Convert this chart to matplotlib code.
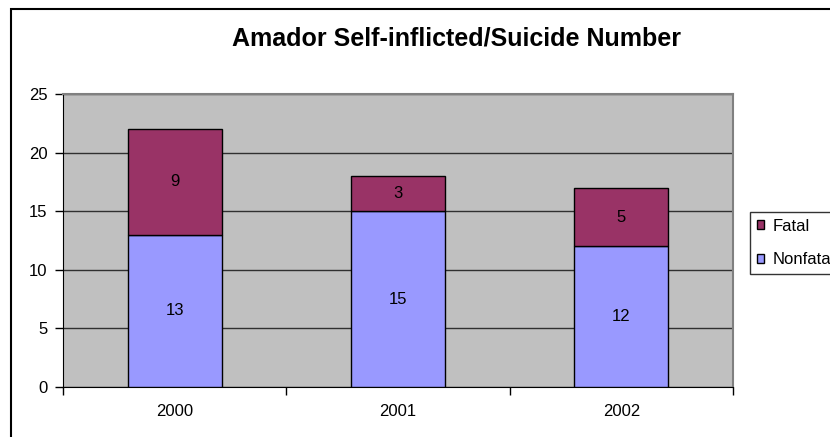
import numpy as np
import matplotlib.pyplot as plt
from matplotlib.patches import Rectangle, Patch

plt.rcParams['font.family'] = ['Liberation Sans', 'DejaVu Sans']

# Datos del grafico
years = ['2000', '2001', '2002']
nonfatal = [13, 15, 12]
fatal = [9, 3, 5]

col_nonfatal = '#9999FF'
col_fatal = '#993366'

fig = plt.figure(figsize=(8.3, 4.37), dpi=100)
ax = fig.add_axes([63/830, 1 - 387/437, 670/830, 293/437])
ax.set_facecolor('#C0C0C0')

x = np.arange(len(years))
w = 0.42
ax.bar(x, nonfatal, w, color=col_nonfatal, edgecolor='black', linewidth=1, zorder=3)
ax.bar(x, fatal, w, bottom=nonfatal, color=col_fatal, edgecolor='black', linewidth=1, zorder=3)

# Etiquetas de valores dentro de las barras
for i in range(len(years)):
    ax.text(x[i], nonfatal[i] / 2, str(nonfatal[i]), ha='center', va='center', fontsize=12, zorder=4)
    ax.text(x[i], nonfatal[i] + fatal[i] / 2, str(fatal[i]), ha='center', va='center', fontsize=12, zorder=4)

ax.set_xlim(-0.5, len(years) - 0.5)
ax.set_ylim(0, 25)
ax.set_yticks(np.arange(0, 26, 5))
ax.yaxis.grid(True, color='#303030', linewidth=1)
ax.set_axisbelow(True)

ax.set_xticks(x)
ax.set_xticklabels(years)
ax.set_xticks(np.arange(-0.5, len(years), 1), minor=True)
ax.tick_params(axis='x', which='major', length=0, pad=12, labelsize=12)
ax.tick_params(axis='x', which='minor', length=6, width=1, direction='out')
ax.tick_params(axis='y', length=6, width=1, direction='out', pad=5, labelsize=12)

for s in ['top', 'right']:
    ax.spines[s].set_color('#808080')
    ax.spines[s].set_linewidth(1.5)
ax.spines['left'].set_color('black')
ax.spines['bottom'].set_color('black')

fig.text(456/830, 1 - 38/437, 'Amador Self-inflicted/Suicide Number', ha='center', va='center',
         fontsize=18, fontweight='bold')

# Leyenda
handles = [Patch(facecolor=col_fatal, edgecolor='black'), Patch(facecolor=col_nonfatal, edgecolor='black')]
leg = fig.legend(handles, ['Fatal', 'Nonfatal'], loc='upper left', bbox_to_anchor=(750/830, 1 - 212/437),
                 fontsize=12, frameon=True, fancybox=False, handlelength=0.45, handleheight=0.45,
                 handletextpad=0.5, borderpad=0.4, labelspacing=1.1, borderaxespad=0)
leg.get_frame().set_edgecolor('black')
leg.get_frame().set_linewidth(1)

# Borde del grafico
fig.patches.append(Rectangle((11/830, -0.1), 1.2, 1.1 - 9/437, transform=fig.transFigure,
                             fill=False, edgecolor='black', linewidth=1.5))

fig.savefig('out.png', dpi=100)
